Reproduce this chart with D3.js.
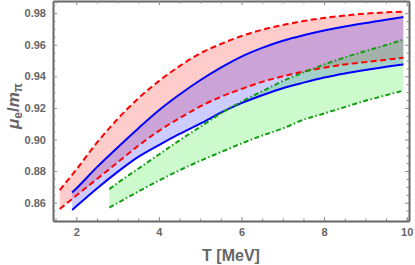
<!DOCTYPE html>
<html>
<head>
<meta charset="utf-8">
<script src="https://cdn.jsdelivr.net/npm/d3@7"></script>
<style>
  body { margin: 0; background: #fff; }
  .tick text { font-family: "Liberation Sans", Arial, sans-serif; font-weight: bold; font-size: 11px; fill: #666; }
  .axisTitle { font-family: "Liberation Sans", Arial, sans-serif; font-weight: bold; fill: #666; }
</style>
</head>
<body>
<div id="chart"></div>
<script>
// Temperature grids (MeV) for the three bands
var tRed   = [1.6, 2.0, 2.5, 3.0, 3.5, 4.0, 4.5, 5.0, 5.5, 6.0, 6.5, 7.0, 7.5, 8.0, 8.5, 9.0, 9.5, 9.92];
var tBlue  = [1.9, 2.0, 2.5, 3.0, 3.5, 4.0, 4.5, 5.0, 5.5, 6.0, 6.5, 7.0, 7.5, 8.0, 8.5, 9.0, 9.5, 9.92];
var tGreen = [2.8, 3.0, 3.5, 4.0, 4.5, 5.0, 5.5, 6.0, 6.5, 7.0, 7.5, 8.0, 8.5, 9.0, 9.5, 9.92];

// mu_e / m_pi values
var redUpper   = [0.868, 0.881, 0.898, 0.913, 0.926, 0.937, 0.9465, 0.9545, 0.9605, 0.9655, 0.9695, 0.9725, 0.975, 0.977, 0.9785, 0.9797, 0.9805, 0.981];
var redLower   = [0.856, 0.8645, 0.875, 0.8855, 0.896, 0.9055, 0.9135, 0.921, 0.927, 0.932, 0.9365, 0.940, 0.943, 0.9455, 0.9475, 0.949, 0.9505, 0.9518];
var blueUpper  = [0.8665, 0.869, 0.8825, 0.895, 0.907, 0.9185, 0.9285, 0.9375, 0.9455, 0.9525, 0.958, 0.9625, 0.966, 0.969, 0.9715, 0.9738, 0.9758, 0.9775];
var blueLower  = [0.8554, 0.8577, 0.869, 0.8795, 0.889, 0.8965, 0.9035, 0.910, 0.917, 0.923, 0.928, 0.9325, 0.936, 0.9392, 0.9418, 0.944, 0.946, 0.9476];
var greenUpper = [0.8686, 0.8725, 0.8815, 0.8905, 0.8995, 0.908, 0.9165, 0.924, 0.9305, 0.937, 0.9425, 0.9475, 0.952, 0.956, 0.9598, 0.9632];
var greenLower = [0.8568, 0.8598, 0.867, 0.874, 0.8805, 0.8865, 0.892, 0.8975, 0.9025, 0.907, 0.9125, 0.9165, 0.9205, 0.9245, 0.928, 0.931];

var xTicks = [2, 4, 6, 8, 10];
var yTicks = [0.86, 0.88, 0.90, 0.92, 0.94, 0.96, 0.98];

var svgWidth = 415, svgHeight = 265;
var margin = { top: 1, right: 6, bottom: 44, left: 53 };

var svg = d3.select("#chart").append("svg")
  .attr("width", svgWidth)
  .attr("height", svgHeight);

var x = d3.scaleLinear().domain([1.436, 10.056]).range([margin.left, svgWidth - margin.right]);
var y = d3.scaleLinear().domain([0.8484, 0.9877]).range([svgHeight - margin.bottom, margin.top]);

function band(ts, up, lo) {
  return ts.map(function (t, i) { return { t: t, up: up[i], lo: lo[i] }; });
}

var series = [
  { data: band(tRed, redUpper, redLower), fill: "rgba(255,0,0,0.2)", stroke: "#ff0000", dash: "6,3.5" },
  { data: band(tBlue, blueUpper, blueLower), fill: "rgba(0,0,255,0.2)", stroke: "#0000ff", dash: null },
  { data: band(tGreen, greenUpper, greenLower), fill: "rgba(0,230,0,0.2)", stroke: "#139d13", dash: "5,2.5,1.5,2.5" }
];

var area = d3.area()
  .x(function (d) { return x(d.t); })
  .y0(function (d) { return y(d.lo); })
  .y1(function (d) { return y(d.up); })
  .curve(d3.curveMonotoneX);

var lineUp = d3.line().x(function (d) { return x(d.t); }).y(function (d) { return y(d.up); }).curve(d3.curveMonotoneX);
var lineLo = d3.line().x(function (d) { return x(d.t); }).y(function (d) { return y(d.lo); }).curve(d3.curveMonotoneX);

// fills
series.forEach(function (s) {
  svg.append("path").attr("d", area(s.data)).attr("fill", s.fill).attr("stroke", "none");
});

// boundary lines
series.forEach(function (s) {
  [lineUp, lineLo].forEach(function (ln) {
    svg.append("path")
      .attr("d", ln(s.data))
      .attr("fill", "none")
      .attr("stroke", s.stroke)
      .attr("stroke-width", 2)
      .attr("stroke-dasharray", s.dash);
  });
});

// frame axes
var xMinor = d3.range(1.5, 10.01, 0.5).filter(function (v) { return v % 2 !== 0; });
var yMinor = d3.range(0.85, 0.9876, 0.005).filter(function (v) { return Math.abs(Math.round(v * 100) % 2) !== 0 || Math.abs(v * 100 - Math.round(v * 100)) > 0.1; });

function frameAxis(axisFn, scale, tr, major, minor, labels) {
  var g = svg.append("g").attr("transform", tr);
  g.call(axisFn(scale).tickValues(major).tickSizeInner(-4).tickSizeOuter(0).tickPadding(7)
      .tickFormat(labels ? labels : function () { return ""; }));
  g.append("g").call(axisFn(scale).tickValues(minor).tickSizeInner(-2.5).tickSizeOuter(0).tickFormat(function () { return ""; }))
    .select(".domain").remove();
  g.selectAll("line").attr("stroke", "#888").attr("stroke-width", 1);
  g.select(".domain").attr("stroke", "#666").attr("stroke-width", 2);
  return g;
}

var bottomY = svgHeight - margin.bottom;
var rightX = svgWidth - margin.right;

frameAxis(d3.axisBottom, x, "translate(0," + bottomY + ")", xTicks, xMinor, d3.format("d"));
frameAxis(d3.axisTop, x, "translate(0," + margin.top + ")", xTicks, xMinor, null);
frameAxis(d3.axisLeft, y, "translate(" + margin.left + ",0)", yTicks, yMinor, d3.format(".2f"));
frameAxis(d3.axisRight, y, "translate(" + rightX + ",0)", yTicks, yMinor, null);

// axis titles
svg.append("text")
  .attr("class", "axisTitle")
  .attr("x", 231)
  .attr("y", 261)
  .attr("text-anchor", "middle")
  .style("font-size", "16px")
  .text("T [MeV]");

var yt = svg.append("text")
  .attr("class", "axisTitle")
  .attr("transform", "translate(19,106) rotate(-90)")
  .attr("text-anchor", "middle")
  .style("font-size", "17px");
yt.append("tspan").attr("font-style", "italic").text("μ");
yt.append("tspan").attr("baseline-shift", "-25%").style("font-size", "12px").text("e");
yt.append("tspan").text("/");
yt.append("tspan").attr("font-style", "italic").text("m");
yt.append("tspan").attr("baseline-shift", "-25%").style("font-size", "12px").text("π");
</script>
</body>
</html>
